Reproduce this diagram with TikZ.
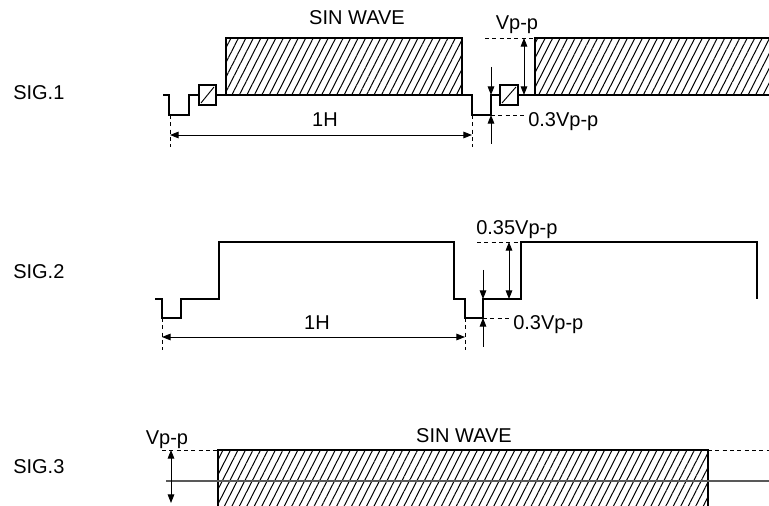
\documentclass[tikz,border=0pt]{standalone}
\usepackage{fontspec}
\setmainfont{Liberation Sans}
\usetikzlibrary{arrows.meta,patterns.meta}
\tikzset{
  signal/.style={line width=1.4pt, line join=miter},
  hatch/.style={pattern={Lines[angle=63,distance=5pt,line width=0.75pt]}},
  dimline/.style={line width=0.7pt, {Triangle[length=6.5pt,width=5pt]}-{Triangle[length=6.5pt,width=5pt]}},
  dimarrow/.style={line width=0.7pt, -{Triangle[length=6.5pt,width=5pt]}},
  guide/.style={line width=0.6pt, dash pattern=on 3pt off 2.5pt},
  txt/.style={font=\fontsize{15}{17}\selectfont, inner sep=0pt},
}
\begin{document}
\begin{tikzpicture}[x=0.75pt, y=-0.75pt]
        \useasboundingbox (0,0) rectangle (769,506);

        % SIG.1
        \node [txt, anchor=base west] (sig1) at (13,100) {SIG.1};
        \fill [hatch] (226,38) rectangle (462,95);
        \fill [hatch] (535,38) rectangle (769,95);
        \draw [signal] (226,95) -- (226,38) -- (462,38) -- (462,95);
        \draw [signal] (769,38) -- (535,38) -- (535,95);
        \draw [signal] (163,95) -- (169,95) -- (169,115) -- (189,115) -- (189,95) -- (199,95);
        \draw [signal] (216,95) -- (472,95) -- (472,115) -- (491,115) -- (491,95) -- (500,95);
        \draw [signal] (518,95) -- (769,95);
        \draw [line width=1.2pt] (199,85) rectangle (216,105);
        \draw [line width=0.7pt] (201,103) -- (214,87);
        \draw [line width=1.2pt] (500,85) rectangle (518,105);
        \draw [line width=0.7pt] (502,103) -- (516,87);
        \node [txt, anchor=base] (sin1) at (357,25) {SIN WAVE};
        % Vp-p
        \coordinate (vtop1) at (524,38);
        \coordinate (vbot1) at (524,95);
        \draw [guide] (485,38) -- (535,38);
        \draw [dimline] (vtop1) -- (vbot1);
        \node [txt, anchor=base] (vpp1) at (517,30) {Vp-p};
        % 0.3Vp-p
        \coordinate (ptop1) at (491,67);
        \coordinate (pbot1) at (491,144);
        \draw [dimarrow] (ptop1) -- (491,95);
        \draw [dimarrow] (pbot1) -- (491,115);
        \draw [guide] (491,115) -- (526,115);
        \node [txt, anchor=base west] (low1) at (528,127) {0.3Vp-p};
        % 1H
        \coordinate (hl1) at (170,135);
        \coordinate (hr1) at (472,135);
        \draw [guide] (170,115) -- (170,147);
        \draw [guide] (472,115) -- (472,147);
        \draw [dimline] (hl1) -- (hr1);
        \node [txt, anchor=base] (oneh1) at (325,127) {1H};

        % SIG.2
        \node [txt, anchor=base west] (sig2) at (13,279) {SIG.2};
        \draw [signal] (155,299) -- (162,299) -- (162,318) -- (181,318) -- (181,299) -- (219,299)
            -- (219,242) -- (454,242) -- (454,299) -- (465,299) -- (465,318) -- (483,318)
            -- (483,299) -- (521,299) -- (521,242) -- (757,242) -- (757,299);
        % 0.35Vp-p
        \coordinate (vtop2) at (509,242);
        \coordinate (vbot2) at (509,299);
        \draw [guide] (477,242) -- (521,242);
        \draw [dimline] (vtop2) -- (vbot2);
        \node [txt, anchor=base west] (vpp2) at (476,235) {0.35Vp-p};
        % 0.3Vp-p
        \coordinate (ptop2) at (483,270);
        \coordinate (pbot2) at (483,347);
        \draw [dimarrow] (ptop2) -- (483,299);
        \draw [dimarrow] (pbot2) -- (483,318);
        \draw [guide] (483,318) -- (510,318);
        \node [txt, anchor=base west] (low2) at (513,330) {0.3Vp-p};
        % 1H
        \coordinate (hl2) at (162,337);
        \coordinate (hr2) at (465,337);
        \draw [guide] (162,318) -- (162,350);
        \draw [guide] (465,318) -- (465,350);
        \draw [dimline] (hl2) -- (hr2);
        \node [txt, anchor=base] (oneh2) at (317,330) {1H};

        % SIG.3
        \node [txt, anchor=base west] (sig3) at (13,474) {SIG.3};
        \fill [hatch] (218,450) rectangle (708,506);
        \draw [signal] (218,506) -- (218,450) -- (708,450) -- (708,506);
        \draw [line width=1pt, color=black!65] (166,481) -- (769,481);
        \draw [guide] (162,450) -- (218,450);
        \draw [guide] (708,450) -- (769,450);
        \coordinate (vtop3) at (171,450);
        \coordinate (vbot3) at (171,503);
        \draw [dimline] (vtop3) -- (vbot3);
        \node [txt, anchor=base] (vpp3) at (167,445) {Vp-p};
        \node [txt, anchor=base] (sin3) at (464,443) {SIN WAVE};
    \end{tikzpicture}
\end{document}
